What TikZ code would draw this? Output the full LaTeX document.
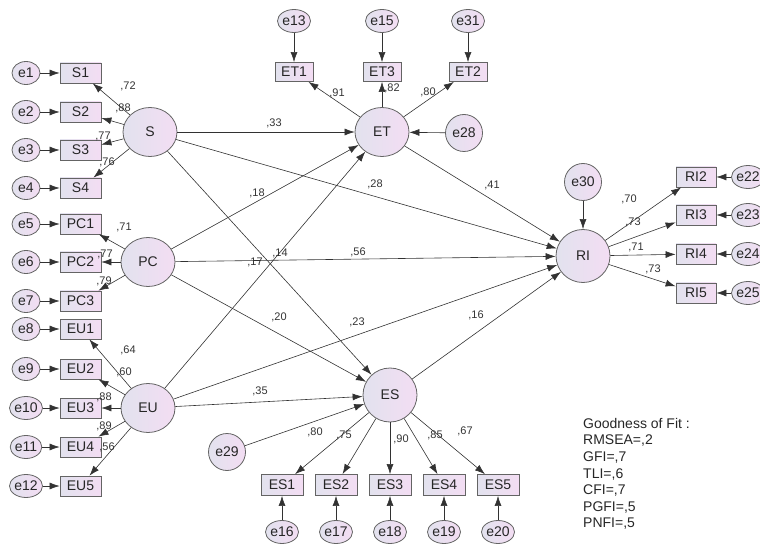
\documentclass[tikz,border=0pt]{standalone}
\usepackage{fontspec}
\setmainfont{Liberation Sans}
\usetikzlibrary{shapes.geometric,arrows.meta}

\definecolor{fillA}{RGB}{226,226,238}
\definecolor{fillB}{RGB}{243,221,243}
\definecolor{rim}{RGB}{100,100,100}
\definecolor{wire}{RGB}{50,50,50}

\tikzset{
  lbl/.style={font=\fontsize{14}{14}\selectfont, text=black!85},
  obs/.style={rectangle, draw=rim, line width=0.8pt, left color=fillA, right color=fillB,
              minimum width=41pt, minimum height=20pt, inner sep=0pt, lbl},
  lat/.style={ellipse, draw=rim, line width=0.8pt, left color=fillA, right color=fillB,
              minimum width=54pt, minimum height=49pt, inner sep=0pt, lbl},
  err/.style={ellipse, draw=rim, line width=0.8pt, left color=fillA, right color=fillB,
              minimum width=28pt, minimum height=23pt, inner sep=0pt, lbl},
  errbig/.style={ellipse, draw=rim, line width=0.8pt, left color=fillA, right color=fillB,
              minimum width=37pt, minimum height=37pt, inner sep=0pt, lbl},
  reg/.style={draw=wire, line width=0.6pt, -{Latex[length=10pt,width=7pt]}},
  coef/.style={font=\fontsize{11}{11}\selectfont, inner sep=0pt, text=black!80},
}

\begin{document}
\begin{tikzpicture}[x=1pt, y=-1pt]
\useasboundingbox (0,0) rectangle (760,545);
\clip (0,0) rectangle (760,545);

% latent variables
\node[lat] (S)  at (150,132) {S};
\node[lat] (PC) at (148,262) {PC};
\node[lat] (EU) at (148,408) {EU};
\node[lat] (ET) at (382,132) {ET};
\node[lat, minimum width=54pt, minimum height=53pt] (RI) at (583,256) {RI};
\node[lat, minimum width=54pt, minimum height=54pt] (ES) at (390,395) {ES};

% disturbances
\node[errbig] (e28) at (464,133) {e28};
\node[errbig] (e30) at (583,182) {e30};
\node[errbig] (e29) at (227,452) {e29};

% left indicators with their errors
\foreach \n/\b/\y in {1/S1/73, 2/S2/112, 3/S3/150, 4/S4/188,
                      5/PC1/224, 6/PC2/262, 7/PC3/301,
                      8/EU1/329, 9/EU2/369, 10/EU3/408, 11/EU4/447, 12/EU5/486}{
  \node[obs] (\b) at (80.5,\y) {\b};
  \node[err] (e\n) at (26,\y) {e\n};
  \draw[reg] (e\n) -- (\b);
}

% top indicators of ET
\foreach \n/\b/\x in {13/ET1/294, 15/ET3/382, 31/ET2/468}{
  \node[obs, minimum width=38pt, minimum height=19pt] (\b) at (\x,72) {\b};
  \node[err] (e\n) at (\x,21) {e\n};
  \draw[reg] (e\n) -- (\b);
  \draw[reg] (ET) -- (\b);
}

% right indicators of RI
\foreach \n/\b/\y in {22/RI2/177, 23/RI3/215, 24/RI4/254, 25/RI5/293}{
  \node[obs, minimum width=40pt] (\b) at (696,\y) {\b};
  \node[err] (e\n) at (748,\y) {e\n};
  \draw[reg] (e\n) -- (\b);
  \draw[reg] (RI) -- (\b);
}

% bottom indicators of ES
\foreach \n/\b/\x in {16/ES1/282, 17/ES2/336, 18/ES3/390, 19/ES4/444, 20/ES5/498}{
  \node[obs, minimum width=42pt, minimum height=21pt] (\b) at (\x,485) {\b};
  \node[err] (e\n) at (\x,532) {e\n};
  \draw[reg] (e\n) -- (\b);
  \draw[reg] (ES) -- (\b);
}

% loadings of the exogenous constructs
\foreach \b in {S1,S2,S3,S4}{\draw[reg] (S) -- (\b);}
\foreach \b in {PC1,PC2,PC3}{\draw[reg] (PC) -- (\b);}
\foreach \b in {EU1,EU2,EU3,EU4,EU5}{\draw[reg] (EU) -- (\b);}

% structural paths
\draw[reg] (S)  -- (ET);
\draw[reg] (S)  -- (RI);
\draw[reg] (S)  -- (ES);
\draw[reg] (PC) -- (ET);
\draw[reg] (PC) -- (RI);
\draw[reg] (PC) -- (ES);
\draw[reg] (EU) -- (ET);
\draw[reg] (EU) -- (RI);
\draw[reg] (EU) -- (ES);
\draw[reg] (ET) -- (RI);
\draw[reg] (ES) -- (RI);
\draw[reg] (e28) -- (ET);
\draw[reg] (e30) -- (RI);
\draw[reg] (e29) -- (ES);

% standardized estimates
\foreach \nm/\x/\y/\t in {
  c1/128/86/{,72}, c2/123/108/{,88}, c3/103/136/{,77}, c4/107/162/{,76},
  c5/124/227/{,71}, c6/105/254/{,77}, c7/104/281/{,79},
  c8/128/350/{,64}, c9/124/372/{,60}, c10/104/397/{,88}, c11/104/426/{,89}, c12/107/447/{,56},
  c13/274/123/{,33}, c14/257/193/{,18}, c15/375/184/{,28}, c16/492/185/{,41},
  c17/255/262/{,17}, c18/280/253/{,14}, c19/358/252/{,56},
  c20/279/317/{,20}, c21/357/322/{,23}, c22/476/315/{,16}, c23/260/391/{,35},
  c24/315/432/{,80}, c25/344/435/{,75}, c26/401/439/{,90}, c27/435/435/{,85}, c28/465/431/{,67},
  c29/337/93/{,91}, c30/392/88/{,82}, c31/428/92/{,80},
  c32/629/199/{,70}, c33/633/222/{,73}, c34/636/247/{,71}, c35/653/269/{,73}}{
  \node[coef] (\nm) at (\x,\y) {\t};
}

% fit indices
\node[anchor=north west, inner sep=0pt, align=left, text=black!85,
      font=\fontsize{14}{16.6}\selectfont] (fit) at (583,418)
  {Goodness of Fit :\\RMSEA=,2\\GFI=,7\\TLI=,6\\CFI=,7\\PGFI=,5\\PNFI=,5};
\end{tikzpicture}
\end{document}
